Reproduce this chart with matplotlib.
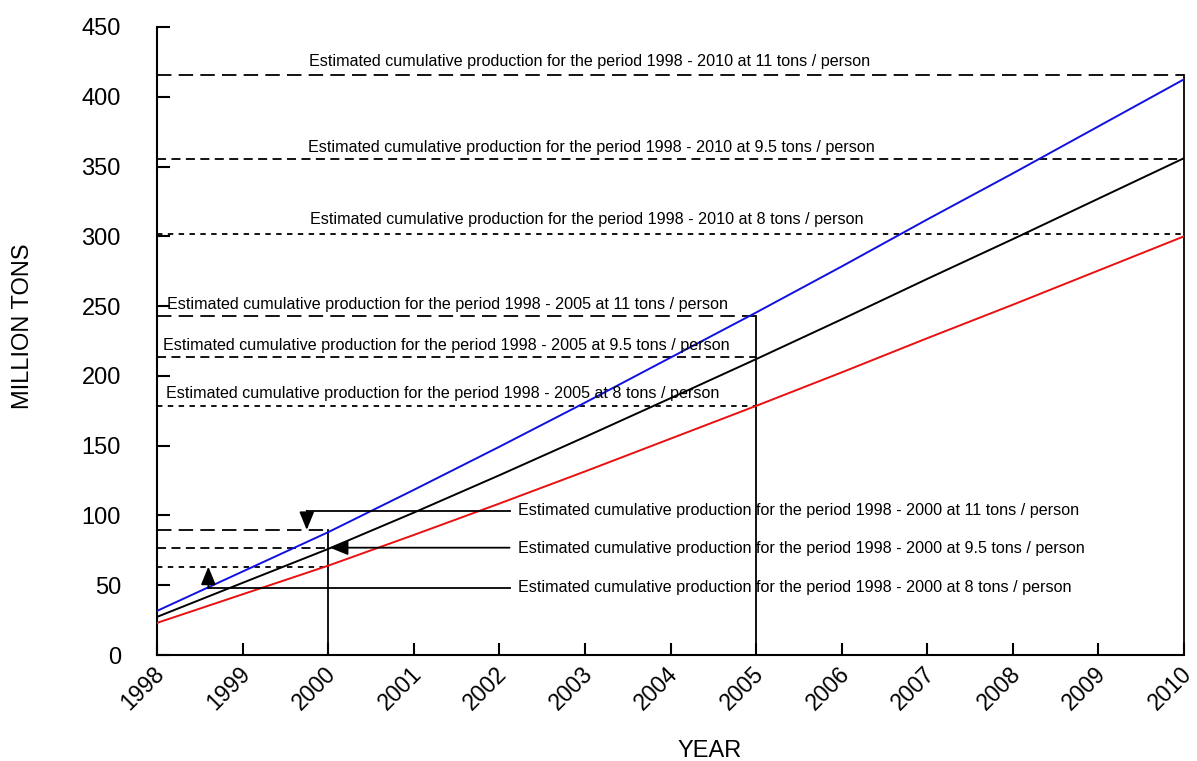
import matplotlib
matplotlib.use("Agg")
import matplotlib.pyplot as plt
import matplotlib.transforms as mtransforms

plt.rcParams['font.family'] = ['Liberation Sans', 'DejaVu Sans']

# ---------------- data ----------------
years = [1998, 1999, 2000, 2001, 2002, 2003, 2004, 2005, 2006, 2007, 2008, 2009, 2010]
prod_11 = [31.6, 59.8, 88.0, 118.3, 149.2, 180.8, 213.1, 245.4, 278.4, 312.1, 345.1, 378.8, 412.5]
prod_95 = [27.3, 51.7, 76.0, 102.0, 128.8, 156.2, 184.0, 212.0, 240.5, 269.5, 298.0, 327.0, 356.0]
prod_8 = [23.0, 43.5, 64.0, 86.0, 108.5, 131.5, 155.0, 178.5, 202.5, 227.0, 251.0, 275.5, 300.0]

period_ends = [2000, 2005, 2010]
est_11 = [89.6, 243.0, 415.6]
est_95 = [76.9, 213.5, 355.2]
est_8 = [63.3, 178.4, 302.0]

rates = ["11", "9.5", "8"]
label_tpl = "Estimated cumulative production for the period 1998 - {end} at {rate} tons / person"

y_ticks = [0, 50, 100, 150, 200, 250, 300, 350, 400, 450]
x_ticks = years

# ---------------- figure ----------------
fig = plt.figure(figsize=(11.97, 7.61), dpi=100)
ax = fig.add_axes([157/1197, 1-655/761, (1184-157)/1197, (655-27)/761])
ax.set_xlim(1998, 2010)
ax.set_ylim(0, 450)

lw = 1.4
ax.plot(years, prod_11, color='#1010e0', lw=lw, zorder=3)
ax.plot(years, prod_95, color='black', lw=lw, zorder=3)
ax.plot(years, prod_8, color='#e81010', lw=lw, zorder=3)

dash_styles = {
    "11": (0, (8, 4)),
    "9.5": (0, (5, 3)),
    "8": (0, (3, 3)),
}
est_all = {"11": est_11, "9.5": est_95, "8": est_8}

for rate in rates:
    for end, val in zip(period_ends, est_all[rate]):
        ax.plot([1998, end], [val, val], color='black', lw=1.3,
                linestyle=dash_styles[rate], zorder=2, clip_on=False)

# vertical lines at period ends
for end, val in zip(period_ends, est_11):
    ax.plot([end, end], [0, val], color='black', lw=1.3, zorder=2, clip_on=False)

fs = 11.6
# 2010 labels
lab2010_x = [2003.06, 2003.08, 2003.02]
lab2010_y = [425.6, 364.0, 312.4]
for rate, x, y in zip(rates, lab2010_x, lab2010_y):
    ax.text(x, y, label_tpl.format(end=2010, rate=rate), ha='center', va='center', fontsize=fs)

# 2005 labels
lab2005_x = [1998.12, 1998.07, 1998.10]
lab2005_y = [250.8, 222.0, 187.7]
for rate, x, y in zip(rates, lab2005_x, lab2005_y):
    ax.text(x, y, label_tpl.format(end=2005, rate=rate), ha='left', va='center', fontsize=fs)

# 2000 labels with leader arrows
lab2000_x = 2002.22
line_end_x = 2002.12
lab2000_y = [103.2, 76.0, 48.7]
for rate, y in zip(rates, lab2000_y):
    ax.text(lab2000_x, y, label_tpl.format(end=2000, rate=rate), ha='left', va='center', fontsize=fs)

arrow_kw = dict(arrowstyle='-|>,head_length=1.1,head_width=0.45', color='black', lw=1.3,
                shrinkA=0, shrinkB=0)
# 11 t/person: horizontal then down
ax.plot([1999.75, line_end_x], [103.4, 103.4], color='black', lw=1.3, zorder=4)
ax.annotate('', xy=(1999.75, est_11[0]), xytext=(1999.75, 103.4), arrowprops=arrow_kw, zorder=4)
# 9.5 t/person: horizontal pointing left
ax.annotate('', xy=(2000.02, est_95[0]), xytext=(line_end_x, est_95[0]), arrowprops=arrow_kw, zorder=4)
# 8 t/person: horizontal then up
ax.plot([1998.6, line_end_x], [47.8, 47.8], color='black', lw=1.3, zorder=4)
ax.annotate('', xy=(1998.6, est_8[0]), xytext=(1998.6, 47.8), arrowprops=arrow_kw, zorder=4)

# axes styling
for side in ['top', 'right']:
    ax.spines[side].set_visible(False)
for side in ['left', 'bottom']:
    ax.spines[side].set_linewidth(1.5)

ax.set_yticks(y_ticks)
ax.set_yticklabels([str(v) for v in y_ticks], fontsize=17)
ax.set_xticks(x_ticks)
ax.set_xticklabels([str(v) for v in x_ticks], fontsize=16.5, rotation=45,
                   ha='right', va='top', rotation_mode='anchor')
ax.tick_params(axis='y', direction='in', length=9, width=1.5, pad=26)
ax.tick_params(axis='x', direction='in', length=9, width=1.5, pad=5)

offset = mtransforms.ScaledTranslation(-4/100, 0, fig.dpi_scale_trans)
for lbl in ax.get_xticklabels():
    lbl.set_transform(lbl.get_transform() + offset)

fig.text(23/1197, 1-326/761, "MILLION TONS", rotation=90, ha='center', va='center', fontsize=17)
fig.text(710/1197, 1-751/761, "YEAR", ha='center', va='center', fontsize=17)

fig.savefig("out.png", dpi=100)
